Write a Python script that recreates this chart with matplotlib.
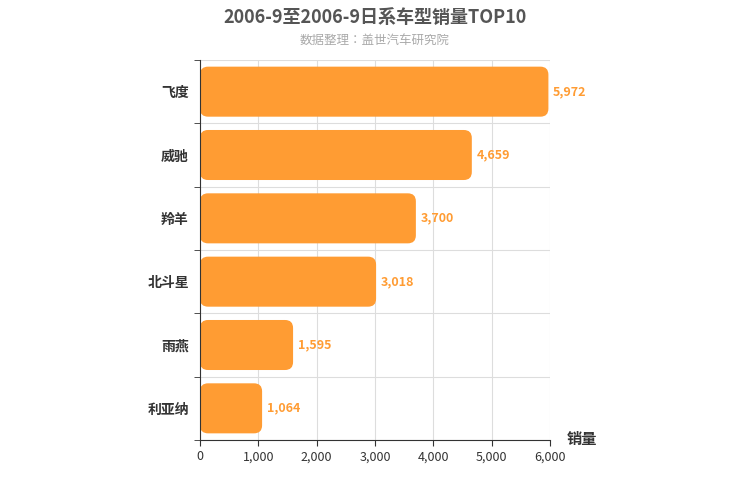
import matplotlib
matplotlib.use("Agg")
import matplotlib.pyplot as plt
from matplotlib.patches import FancyBboxPatch
from matplotlib import font_manager

names = {f.name for f in font_manager.fontManager.ttflist}
cjk = [n for n in ['Noto Sans CJK SC', 'Noto Sans CJK JP', 'Noto Sans CJK TC', 'Noto Sans CJK KR'] if n in names]
plt.rcParams['font.family'] = 'sans-serif'
plt.rcParams['font.sans-serif'] = cjk + ['DejaVu Sans']

categories = ['飞度', '威驰', '羚羊', '北斗星', '雨燕', '利亚纳']
values = [5972, 4659, 3700, 3018, 1595, 1064]
xticks = [0, 1000, 2000, 3000, 4000, 5000, 6000]

color = '#FF9C33'
fig = plt.figure(figsize=(7.5, 5), dpi=100)
ax = fig.add_axes([0.2667, 0.12, 0.4667, 0.76])
ax.set_xlim(0, 6000)
ax.set_ylim(-0.5, len(categories) - 0.5)
ypos = list(range(len(categories)))[::-1]
h = 0.79
xpp = 6000 / 350.0
ypp = 6 / 380.0
for y, v in zip(ypos, values):
    p = FancyBboxPatch((0, y - h / 2), v, h,
                       boxstyle=f"round,pad=0,rounding_size={8 * xpp}",
                       mutation_aspect=ypp / xpp, facecolor=color, edgecolor='none')
    ax.add_patch(p)
    ax.text(v + 80, y, f'{v:,}', va='center', ha='left', color=color, fontsize=9, fontweight='bold')
ax.set_xticks(xticks)
ax.set_xticklabels([f'{t:,}' for t in xticks], fontsize=9, color='#333333')
ax.set_yticks(ypos)
ax.set_yticklabels(categories, fontsize=10, fontweight='bold', color='#333333')
ax.set_yticks([y + 0.5 for y in ypos] + [-0.5], minor=True)
ax.tick_params(axis='y', which='major', length=0, pad=8)
ax.tick_params(axis='y', which='minor', length=4, color='#333333')
ax.tick_params(axis='x', length=4, color='#333333')
ax.grid(True, axis='x', color='#dddddd', linewidth=0.8)
ax.grid(True, axis='y', which='minor', color='#dddddd', linewidth=0.8)
ax.set_axisbelow(True)
for s in ['top', 'right']:
    ax.spines[s].set_visible(False)
ax.spines['left'].set_color('#333333')
ax.spines['bottom'].set_color('#333333')
fig.text(0.5, 0.965, '2006-9至2006-9日系车型销量TOP10', ha='center', va='center', fontsize=13, fontweight='bold', color='#555555')
fig.text(0.5, 0.92, '数据整理：盖世汽车研究院', ha='center', va='center', fontsize=9, color='#aaaaaa')
fig.text(0.755, 0.122, '销量', ha='left', va='center', fontsize=11, fontweight='bold', color='#333333')
fig.savefig('out.png', dpi=100)
